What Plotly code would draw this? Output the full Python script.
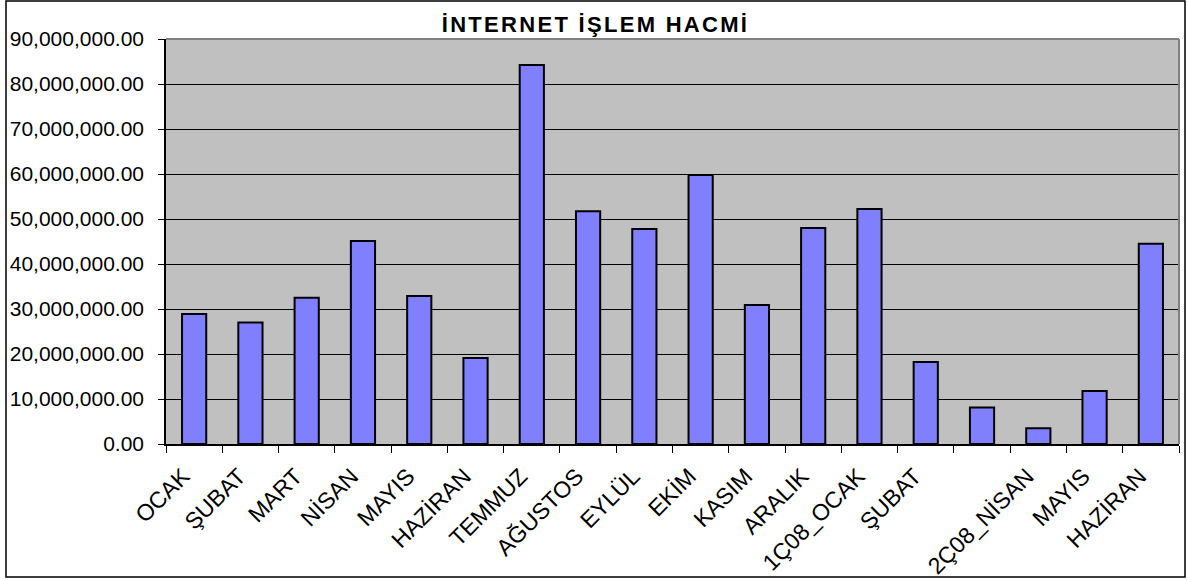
import plotly.graph_objects as go

categories = ["OCAK", "ŞUBAT", "MART", "NİSAN", "MAYIS", "HAZİRAN", "TEMMUZ",
              "AĞUSTOS", "EYLÜL", "EKİM", "KASIM", "ARALIK", "1Ç08_OCAK",
              "ŞUBAT", "MART", "2Ç08_NİSAN", "MAYIS", "HAZİRAN"]
# label shown under each bar (the 15th label is not shown in the original)
tick_labels = ["OCAK", "ŞUBAT", "MART", "NİSAN", "MAYIS", "HAZİRAN", "TEMMUZ",
               "AĞUSTOS", "EYLÜL", "EKİM", "KASIM", "ARALIK", "1Ç08_OCAK",
               "ŞUBAT", "", "2Ç08_NİSAN", "MAYIS", "HAZİRAN"]
values = [28.9e6, 27.0e6, 32.5e6, 45.1e6, 32.9e6, 19.1e6, 84.2e6,
          51.7e6, 47.8e6, 59.8e6, 30.9e6, 48.0e6, 52.2e6,
          18.2e6, 8.1e6, 3.5e6, 11.8e6, 44.5e6]
y_ticks = [0, 10e6, 20e6, 30e6, 40e6, 50e6, 60e6, 70e6, 80e6, 90e6]
title_text = "İNTERNET İŞLEM HACMİ"

idx = list(range(len(categories)))

fig = go.Figure()
fig.add_trace(go.Bar(
    x=idx, y=values, name="İşlem Hacmi",
    marker=dict(color="#8080FF", line=dict(color="black", width=2)),
    customdata=categories,
    hovertemplate="%{customdata}: %{y:,.2f}<extra></extra>",
))

W, H = 1187, 580
L, R, T, B = 166, 8, 39, 136
pw, ph = W - L - R, H - T - B

fig.update_layout(
    width=W, height=H,
    margin=dict(l=L, r=R, t=T, b=B, autoexpand=False),
    paper_bgcolor="white", plot_bgcolor="#C0C0C0",
    bargap=0.57, showlegend=False,
    font=dict(family="Liberation Sans, Arial, sans-serif", color="black", size=21),
    title=dict(text="<b><span style='letter-spacing:2.3px'>" + title_text + "</span></b>",
               x=(595.5) / W, xref="container",
               xanchor="center", y=1 - 24.5 / H, yref="container", yanchor="middle",
               font=dict(size=22, color="black")),
    xaxis=dict(
        range=[-0.5, len(categories) - 0.5],
        tickmode="array", tickvals=[i - 0.2 for i in idx], ticktext=tick_labels,
        tickangle=-45, ticks="", showgrid=False, zeroline=False,
        showline=True, linecolor="black", linewidth=1.5,
        tickfont=dict(size=23), ticklabelstandoff=8,
        minor=dict(tickmode="array", tickvals=[i - 0.5 for i in range(len(categories) + 1)],
                   ticks="outside", ticklen=7, tickcolor="black", tickwidth=1, showgrid=False),
    ),
    yaxis=dict(
        range=[0, 90e6], tickmode="array", tickvals=y_ticks, tickformat=",.2f",
        ticks="outside", ticklen=6, tickcolor="black",
        showgrid=True, gridcolor="black", gridwidth=1, zeroline=False,
        showline=True, linecolor="black", linewidth=1.5,
        ticklabelstandoff=10,
    ),
    shapes=[
        dict(type="line", xref="paper", yref="paper", x0=0, x1=1, y0=1, y1=1,
             line=dict(color="#808080", width=2)),
        dict(type="line", xref="paper", yref="paper", x0=1, x1=1, y0=0, y1=1,
             line=dict(color="#808080", width=2)),
        dict(type="rect", xref="paper", yref="paper",
             x0=(6 - L) / pw, x1=(1185 - L) / pw,
             y0=-(577 - (H - B)) / ph, y1=(H - B - 1) / ph,
             line=dict(color="black", width=1.5), fillcolor="rgba(0,0,0,0)"),
    ],
)

fig.write_html("out.html", config={"displayModeBar": False},
               post_script="document.body.style.margin='0';")
